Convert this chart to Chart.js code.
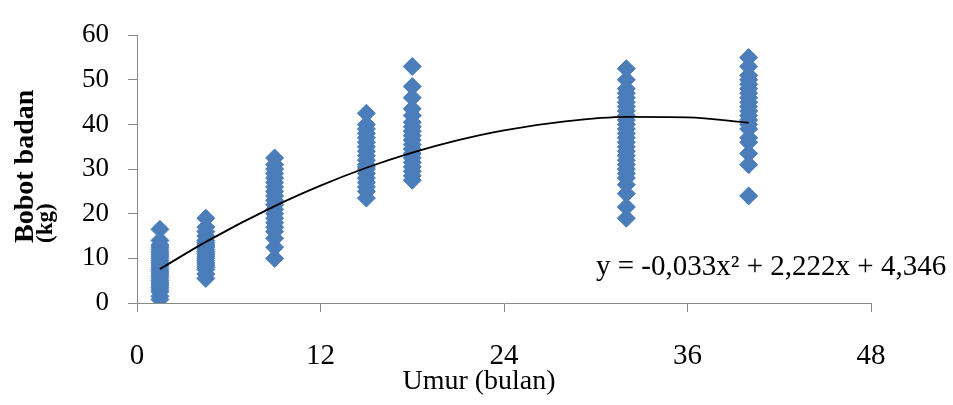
<!DOCTYPE html>
<html>
<head>
<meta charset="utf-8">
<script src="https://cdn.jsdelivr.net/npm/chart.js@4/dist/chart.umd.min.js"></script>
<style>
  html, body { margin: 0; padding: 0; background: #fff; }
  #wrap { width: 953px; height: 405px; }
</style>
</head>
<body>
<div id="wrap"><canvas id="c" width="953" height="405"></canvas></div>
<script>
// Ages (months) of each group
const umur = [1.5, 4.5, 9, 15, 18, 32, 40];
// Body weights (kg) read per age group
const bobot_1_5 = [0.8, 1.5, 2.5, 3, 3.5, 4, 4.5, 5, 5.5, 6, 6.5, 7, 7.5, 8, 8.5, 9, 9.5, 10, 10.5, 11, 11.5, 12, 12.5, 13, 14, 16.5];
const bobot_4_5 = [5.5, 6.5, 7.5, 8, 8.5, 9, 9.5, 10, 10.5, 11, 11.5, 12, 12.5, 13, 13.5, 14, 15, 16, 17, 19];
const bobot_9 = [10, 12.5, 14.5, 16, 17, 18, 19, 20, 21, 22, 23, 24, 25, 26, 27, 28, 29, 30, 31, 32.5];
const bobot_15 = [23.5, 25, 26, 27, 28, 29, 30, 30.5, 31, 32, 33, 34, 35, 36, 37, 38, 39, 40, 42.5];
const bobot_18 = [27.5, 28.5, 29.5, 30.5, 31.5, 32.5, 33.5, 34.5, 35.5, 36.5, 37.5, 38.5, 39.5, 40.5, 42, 43.5, 46, 48.5, 53];
const bobot_32 = [19, 21.5, 24.5, 26.5, 28, 29, 30, 31, 32, 33, 34, 35, 36, 37, 38, 39, 40, 41, 42, 43, 44, 45, 46, 47, 48, 50, 52.5];
const bobot_40 = [24, 31, 33.5, 36, 37, 39, 40, 41, 42, 43, 44, 45, 46, 47, 48, 49, 50, 51, 53, 55];
const bobotGroups = [bobot_1_5, bobot_4_5, bobot_9, bobot_15, bobot_18, bobot_32, bobot_40];

// Trend line
const trendX = [1.5, 4.5, 9, 12, 15, 18, 21, 24, 28, 32, 36, 40];
const trendY = [7.6, 13.7, 21.7, 26.3, 30.3, 33.7, 36.5, 38.7, 40.7, 41.7, 41.6, 40.4];

// Axis ticks
const xTicks = [0, 12, 24, 36, 48];
const yTicks = [0, 10, 20, 30, 40, 50, 60];

const xTitle = 'Umur (bulan)';
const yTitle1 = 'Bobot badan';
const yTitle2 = '(kg)';
const equation = 'y = -0,033x\u00B2 + 2,222x + 4,346';

const scatterPts = [];
umur.forEach((a, i) => bobotGroups[i].forEach(w => scatterPts.push({x: a, y: w})));
const trendPts = trendX.map((x, i) => ({x: x, y: trendY[i]}));

const SERIF = '"Liberation Serif", "Times New Roman", serif';
const BLUE = '#4A7DBA';
const AXIS = '#8a8a8a';

const textPlugin = {
  id: 'texts',
  afterDraw(chart) {
    const ctx = chart.ctx;
    ctx.save();
    ctx.fillStyle = '#000';
    // Y title (rotated, two lines, start-aligned)
    ctx.save();
    ctx.translate(33, 243);
    ctx.rotate(-Math.PI / 2);
    ctx.textAlign = 'left';
    ctx.textBaseline = 'alphabetic';
    ctx.font = 'bold 28px ' + SERIF;
    ctx.fillText(yTitle1, 0, 0);
    ctx.font = 'bold 23px ' + SERIF;
    ctx.fillText(yTitle2, 0, 19);
    ctx.restore();
    // X title
    ctx.font = '28px ' + SERIF;
    ctx.textAlign = 'center';
    ctx.textBaseline = 'alphabetic';
    ctx.fillText(xTitle, 479, 389);
    // Equation
    ctx.font = '29px ' + SERIF;
    ctx.textAlign = 'left';
    ctx.fillText(equation, 596, 275);
    ctx.restore();
  }
};

new Chart(document.getElementById('c'), {
  type: 'scatter',
  data: {
    datasets: [
      {
        type: 'line',
        data: trendPts,
        borderColor: '#000',
        borderWidth: 1.8,
        pointRadius: 0,
        fill: false,
        cubicInterpolationMode: 'monotone',
        order: 0
      },
      {
        data: scatterPts,
        pointStyle: 'rectRot',
        pointRadius: 9,
        backgroundColor: BLUE,
        borderColor: BLUE,
        borderWidth: 1,
        order: 1
      }
    ]
  },
  options: {
    responsive: false,
    animation: false,
    devicePixelRatio: 1,
    layout: { padding: { top: 24, right: 82, left: 0, bottom: 0 } },
    plugins: { legend: { display: false }, tooltip: { enabled: false }, title: { display: false } },
    scales: {
      x: {
        type: 'linear', min: 0, max: 48,
        afterBuildTicks(s) { s.ticks = xTicks.map(v => ({value: v})); },
        ticks: { font: { family: SERIF, size: 29 }, color: '#000', padding: 27 },
        grid: { drawOnChartArea: false, drawTicks: true, tickLength: 9, color: AXIS, tickColor: AXIS },
        border: { color: AXIS, width: 1 },
        afterFit(s) { s.height = 102; }
      },
      y: {
        type: 'linear', min: 0, max: 60,
        afterBuildTicks(s) { s.ticks = yTicks.map(v => ({value: v})); },
        ticks: { font: { family: SERIF, size: 27 }, color: '#000', padding: 19 },
        grid: { drawOnChartArea: false, drawTicks: true, tickLength: 9, color: AXIS, tickColor: AXIS },
        border: { color: AXIS, width: 1 },
        afterFit(s) { s.width = 137; }
      }
    }
  },
  plugins: [textPlugin]
});
</script>
</body>
</html>
